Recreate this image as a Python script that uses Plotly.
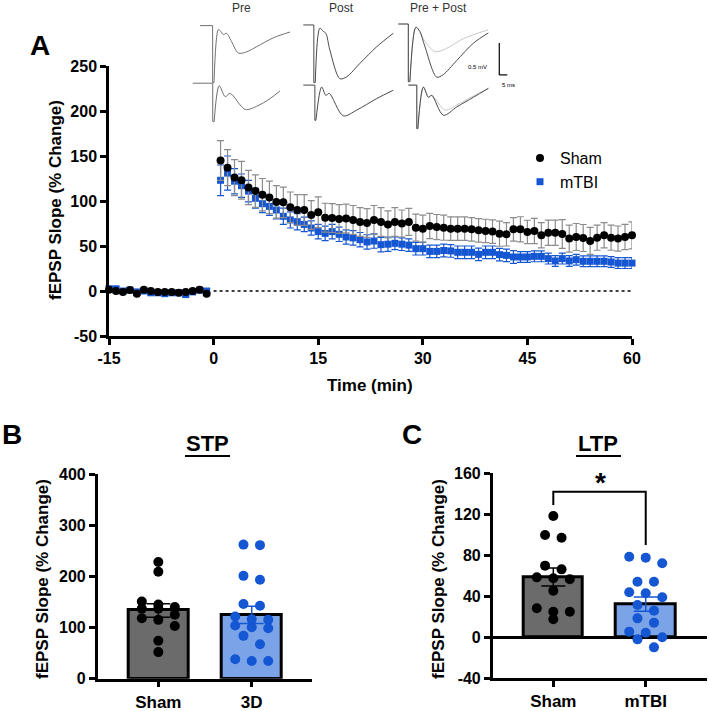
import plotly.graph_objects as go

# ---------------- DATA ----------------
# Panel A: time course (min) and fEPSP slope (% change)
time_pre = [-15, -14, -13, -12, -11, -10, -9, -8, -7, -6, -5, -4, -3, -2, -1]
time_post = list(range(1, 61))

sham_pre = [1.5, 0, -1, 1, -3, 1.5, 0, -1, -1, -1, -2, -1, 0, 1.5, -3]
mtbi_pre = [2.5, 2.5, 0, 1, -1, 0, -2, -2, -3, -2, -2, -4, -1, 1, 0]
sham_pre_sem = [2, 2, 2, 2, 2, 2, 2, 2, 2, 2, 2, 2, 2, 2, 2]
mtbi_pre_sem = [2, 2, 2, 2, 2, 2, 2, 2, 2, 2, 2, 2, 2, 2, 2]

sham_post = [145, 137, 126, 123, 115, 111, 107, 104, 99, 98.5,
             93, 90, 90, 84.5, 87.5, 81.5, 81, 80, 80.5, 79,
             76.7, 75.6, 79, 76.7, 74, 76.7, 75, 76.7, 70.4, 69.3,
             72.2, 71, 70.4, 69.3, 69.3, 69.3, 68.5, 67.4, 66.7, 66,
             63.7, 63, 68.5, 68.5, 65.6, 66.7, 61.9, 64.8, 64.8, 63.3,
             58.2, 60, 58.9, 55.6, 59.3, 61.9, 59.3, 58.2, 60, 61.9]
mtbi_post = [123, 131, 122, 117, 111, 103, 97, 94, 90, 83,
             79, 77, 74, 70, 66, 64, 66, 63, 60, 59,
             57, 54.5, 55.5, 51.5, 52, 53, 52, 51, 47, 47,
             44, 44, 45, 44.5, 43, 43, 43, 40.7, 43, 43,
             40.4, 39.6, 37.8, 37.8, 37.8, 38.5, 38.5, 36, 33.4, 36,
             33.4, 34.8, 33, 33, 33, 33, 32.2, 31, 31, 31]
sham_sem = [22, 20, 20, 21, 19, 18, 18, 18, 18, 17,
            17, 17, 17, 16, 17, 16, 16, 16, 16, 16,
            16, 16, 16, 16, 15, 16, 15, 15, 15, 15,
            14, 14, 14, 13, 13, 13, 13, 13, 13, 13,
            14, 13, 13, 14, 13, 14, 14, 14, 14, 16,
            15, 15, 15, 15, 14, 14, 14, 14, 14, 15]
mtbi_sem = [17, 19, 14, 13, 12, 11, 10, 10, 10, 9,
            9, 9, 8, 8, 8, 8, 8, 8, 8, 8,
            8, 8, 8, 8, 8, 7, 7, 7, 7, 7,
            7, 7, 7, 7, 7, 7, 7, 7, 7, 7,
            7, 7, 7, 6, 6, 6, 6, 6, 6, 6,
            6, 6, 6, 6, 6, 6, 6, 6, 6, 6]

a_xticks = [-15, 0, 15, 30, 45, 60]
a_xtick_labels = ["-15", "0", "15", "30", "45", "60"]
a_yticks = [-50, 0, 50, 100, 150, 200, 250]
a_ytick_labels = ["-50", "0", "50", "100", "150", "200", "250"]

# Panel B: STP
stp_groups = ["Sham", "3D"]
stp_sham = [228, 209, 151, 145, 140, 137, 137, 125, 118, 115, 103, 74, 52]
stp_3d = [262, 261, 201, 193.5, 146, 142.5, 121.6, 116, 115, 104, 100.6, 98.7,
          83.7, 67.4, 38, 34.7, 34.7]
b_yticks = [0, 100, 200, 300, 400]
b_ytick_labels = ["0", "100", "200", "300", "400"]

# Panel C: LTP
ltp_groups = ["Sham", "mTBI"]
ltp_sham = [118.3, 99.8, 97.2, 69.9, 66.3, 58.5, 57.6, 56.6, 45.5, 28.3, 25, 25, 17.6]
ltp_mtbi = [78.6, 77.7, 72.2, 54.2, 54.2, 43.9, 42.9, 39, 31.5, 26, 18.5, 14.3,
            5.5, 4.5, 0, -2, -9.8]
c_yticks = [-40, 0, 40, 80, 120, 160]
c_ytick_labels = ["-40", "0", "40", "80", "120", "160"]

# Inset example traces (time in ms from sweep start, voltage in mV re baseline)
pre_top_t = [0, 7.9, 7.9, 8.75, 11.5, 12.9, 14.6, 16.6, 19.75, 24, 29.1, 35.4, 45.9, 56.25]
pre_top_v = [0, 0, -0.89, -0.89, -0.06, -0.09, -0.14, -0.12, -0.25, -0.43, -0.41, -0.33, -0.19, -0.10]
pre_bot_t = [0, 12.5, 12.5, 13.4, 16.6, 20.3, 23.4, 32.8, 40, 48.4, 54.6]
pre_bot_v = [0, 0, -0.60, -0.60, -0.04, -0.21, -0.16, -0.41, -0.36, -0.24, -0.12]
post_top_t = [0, 6.6, 6.6, 7.5, 10.4, 12.5, 14.1, 16.6, 22.9, 27.1, 35.4, 45.9, 56.25]
post_top_v = [0, 0, -0.90, -0.90, -0.05, -0.10, -0.13, -0.39, -0.84, -0.81, -0.60, -0.34, -0.13]
post_bot_t = [0, 7.25, 7.25, 7.9, 11.5, 14.1, 16.25, 25, 33.4, 45.9, 56.25]
post_bot_v = [0, 0, -0.55, -0.55, -0.03, -0.16, -0.13, -0.48, -0.39, -0.21, -0.08]
pp_top_dark_t = [0, 6.25, 6.25, 7.25, 11, 13.5, 16.6, 24, 28.1, 36.5, 46.9, 56.25]
pp_top_dark_v = [0, 0, -0.90, -0.90, -0.05, -0.12, -0.35, -0.83, -0.79, -0.57, -0.30, -0.14]
pp_top_light_t = [0, 6.25, 6.25, 7.25, 11, 13.5, 15.6, 22.9, 30.25, 40.6, 56.25]
pp_top_light_v = [0, 0, -0.90, -0.90, -0.05, -0.12, -0.23, -0.43, -0.38, -0.23, -0.09]
pp_bot_dark_t = [0, 5.25, 5.25, 5.9, 9.4, 12.5, 14.6, 21.9, 30.25, 40.6, 50]
pp_bot_dark_v = [0, 0, -0.68, -0.68, -0.03, -0.19, -0.16, -0.47, -0.34, -0.19, -0.05]
pp_bot_light_t = [0, 5.25, 5.25, 5.9, 9.4, 12.5, 14.6, 22.9, 30.25, 40.6, 50]
pp_bot_light_v = [0, 0, -0.68, -0.68, -0.03, -0.19, -0.16, -0.39, -0.31, -0.17, -0.05]

# ---------------- STYLE / LAYOUT ----------------
W, H = 709, 711
FONT = "Arial, 'Liberation Sans', sans-serif"
BLUE = "#1556D2"
LIGHT_BLUE = "#7BA4E8"
GRAY_BAR = "#6B6B6B"
GRAY_ERR = "#8C8C8C"


def px(x):
    return x / W


def py(y):
    return 1 - y / H


def mean(v):
    return sum(v) / len(v)


def sem(v):
    m = mean(v)
    var = sum((a - m) ** 2 for a in v) / (len(v) - 1)
    return (var ** 0.5) / (len(v) ** 0.5)


def swarm(values, px_per_val, px_per_cat, thresh=9.5, step=16.5, maxrow=3):
    order = sorted(range(len(values)), key=lambda i: -values[i])
    rows = []
    for i in order:
        if rows and len(rows[-1]) < maxrow and (values[rows[-1][0]] - values[i]) * px_per_val < thresh:
            rows[-1].append(i)
        else:
            rows.append([i])
    offs = [0.0] * len(values)
    for r in rows:
        n = len(r)
        for k, i in enumerate(r):
            offs[i] = (k - (n - 1) / 2) * step / px_per_cat
    return offs


fig = go.Figure()

# ---- Panel A ----
fig.add_trace(go.Scatter(
    x=time_pre + time_post, y=mtbi_pre + mtbi_post, mode="markers", name="mTBI",
    marker=dict(symbol="square", size=7, color=BLUE),
    error_y=dict(type="data", array=mtbi_pre_sem + mtbi_sem, color=BLUE, thickness=1.2, width=3.5),
    xaxis="x", yaxis="y", cliponaxis=False, legendrank=2))
fig.add_trace(go.Scatter(
    x=time_pre + time_post, y=sham_pre + sham_post, mode="markers", name="Sham",
    marker=dict(symbol="circle", size=8, color="black"),
    error_y=dict(type="data", array=sham_pre_sem + sham_sem, color=GRAY_ERR, thickness=1.2, width=3.5),
    xaxis="x", yaxis="y", cliponaxis=False, legendrank=1))

# ---- Panel B ----
b_px_val = 204.7 / 400
b_px_cat = 93.4
for gi, (vals, fill, ecol, pcol) in enumerate([(stp_sham, GRAY_BAR, "black", "black"),
                                                 (stp_3d, LIGHT_BLUE, BLUE, BLUE)]):
    fig.add_trace(go.Bar(x=[gi], y=[mean(vals)], width=0.64, xaxis="x2", yaxis="y2",
                         marker=dict(color=fill, line=dict(color="black", width=3)),
                         error_y=dict(type="data", array=[sem(vals)], color=ecol, thickness=1.5, width=12),
                         showlegend=False))
    offs = swarm(vals, b_px_val, b_px_cat)
    fig.add_trace(go.Scatter(x=[gi + o for o in offs], y=vals, mode="markers", xaxis="x2", yaxis="y2",
                             marker=dict(size=10, color=pcol), showlegend=False, cliponaxis=False))

# ---- Panel C ----
c_px_val = 205.0 / 200
c_px_cat = 92.4
for gi, (vals, fill, ecol, pcol) in enumerate([(ltp_sham, GRAY_BAR, "black", "black"),
                                                 (ltp_mtbi, LIGHT_BLUE, BLUE, BLUE)]):
    fig.add_trace(go.Bar(x=[gi], y=[mean(vals)], width=0.64, xaxis="x3", yaxis="y3",
                         marker=dict(color=fill, line=dict(color="black", width=3)),
                         error_y=dict(type="data", array=[sem(vals)], color=ecol, thickness=1.5, width=12),
                         showlegend=False))
    offs = swarm(vals, c_px_val, c_px_cat)
    fig.add_trace(go.Scatter(x=[gi + o for o in offs], y=vals, mode="markers", xaxis="x3", yaxis="y3",
                             marker=dict(size=10, color=pcol), showlegend=False, cliponaxis=False))

# ---- Inset example traces ----
wave_pos = {
    "pre_top": (6.25, 0.10), "pre_bot": (1.7, -0.80),
    "post_top": (70.8, 0.11), "post_bot": (70.8, -0.83),
    "pp_top": (130.2, 0.125), "pp_bot": (136.5, -0.83),
}
waves = [
    ("pre_top", pre_top_t, pre_top_v, "#707070"),
    ("pre_bot", pre_bot_t, pre_bot_v, "#707070"),
    ("post_top", post_top_t, post_top_v, "#4a4a4a"),
    ("post_bot", post_bot_t, post_bot_v, "#4a4a4a"),
    ("pp_top", pp_top_light_t, pp_top_light_v, "#c8c8c8"),
    ("pp_top", pp_top_dark_t, pp_top_dark_v, "#4a4a4a"),
    ("pp_bot", pp_bot_light_t, pp_bot_light_v, "#c8c8c8"),
    ("pp_bot", pp_bot_dark_t, pp_bot_dark_v, "#4a4a4a"),
]
for key, t, v, col in waves:
    t0, v0 = wave_pos[key]
    xs = [t0 + a for a in t]
    ys = [v0 + b for b in v]
    # baseline + stimulus artifact (straight), then evoked response (smooth)
    fig.add_trace(go.Scatter(x=xs[:4], y=ys[:4], mode="lines",
                             line=dict(color=col, width=1), xaxis="x4", yaxis="y4",
                             showlegend=False, hoverinfo="skip"))
    fig.add_trace(go.Scatter(x=xs[3:], y=ys[3:], mode="lines",
                             line=dict(color=col, width=1, shape="spline", smoothing=0.9),
                             xaxis="x4", yaxis="y4", showlegend=False, hoverinfo="skip"))

tickfont = dict(family=FONT, size=16, color="black", weight="bold")
ax = dict(showline=True, linewidth=2.5, linecolor="black", ticks="outside", ticklen=6,
          tickwidth=2.5, tickcolor="black", showgrid=False, zeroline=False, tickfont=tickfont,
          automargin=False, tickmode="array")

layout = dict(
    width=W, height=H, margin=dict(l=0, r=0, t=0, b=0, pad=0, autoexpand=False),
    plot_bgcolor="white", paper_bgcolor="white",
    font=dict(family=FONT, color="black"),
    xaxis=dict(ax, domain=[px(109), px(632)], range=[-15, 60], tickvals=a_xticks,
               ticktext=a_xtick_labels, anchor="y"),
    yaxis=dict(ax, domain=[py(336), py(66)], range=[-50, 250], tickvals=a_yticks,
               ticktext=a_ytick_labels, anchor="x"),
    xaxis2=dict(ax, domain=[px(97.7), px(311.7)], range=[-0.649, 1.642], tickvals=[0, 1],
                ticktext=stp_groups, anchor="y2", tickfont=dict(tickfont, size=17)),
    yaxis2=dict(ax, domain=[py(678.7), py(474)], range=[0, 400], tickvals=b_yticks,
                ticktext=b_ytick_labels, anchor="x2"),
    xaxis3=dict(ax, domain=[px(492.7), px(706.7)], range=[-0.656, 1.66], tickvals=[0, 1],
                ticktext=ltp_groups, anchor="y3", tickfont=dict(tickfont, size=17)),
    yaxis3=dict(ax, domain=[py(678.3), py(473.3)], range=[-40, 160], tickvals=c_yticks,
                ticktext=c_ytick_labels, anchor="x3",
                zeroline=True, zerolinecolor="black", zerolinewidth=2.5),
    xaxis4=dict(domain=[px(190), px(530)], range=[0, 340 / 1.6], visible=False, anchor="y4",
                automargin=False),
    yaxis4=dict(domain=[py(135), 1], range=[0.5 - 135 / 64, 0.5], visible=False, anchor="x4",
                automargin=False),
    legend=dict(x=px(520), y=py(141), xanchor="left", yanchor="top",
                font=dict(family=FONT, size=16, color="black"), bgcolor="rgba(0,0,0,0)"),
    bargap=0,
    showlegend=True,
)
fig.update_layout(**layout)

# Shapes
shapes = [
    dict(type="line", xref="x", yref="y", x0=0, x1=60, y0=0, y1=0,
         line=dict(color="black", width=1.5, dash="dot"), layer="below"),
    dict(type="path", xref="x3", yref="y3", path="M 0,129 L 0,142 L 1,142 L 1,90",
         line=dict(color="black", width=2)),
    dict(type="line", xref="paper", yref="paper", x0=px(185), x1=px(230), y0=py(456), y1=py(456),
         line=dict(color="black", width=2)),
    dict(type="line", xref="paper", yref="paper", x0=px(576), x1=px(621), y0=py(456), y1=py(456),
         line=dict(color="black", width=2)),
    dict(type="line", xref="x4", yref="y4", x0=193.3, x1=193.3, y0=-0.17, y1=-0.67,
         line=dict(color="black", width=1.2)),
    dict(type="line", xref="x4", yref="y4", x0=193.3, x1=198.3, y0=-0.67, y1=-0.67,
         line=dict(color="black", width=1.2)),
]
fig.update_layout(shapes=shapes)


def ann(text, x, y, size, bold=True, angle=0, color="black"):
    return dict(text=text, x=px(x), y=py(y), xref="paper", yref="paper", showarrow=False,
                xanchor="center", yanchor="middle", textangle=angle,
                font=dict(family=FONT, size=size, color=color, weight="bold" if bold else "normal"))


annotations = [
    ann("A", 40, 45, 28),
    ann("B", 12, 434, 28),
    ann("C", 412, 434, 28),
    ann("fEPSP Slope (% Change)", 55, 200, 17, angle=-90),
    ann("Time (min)", 370, 385, 17),
    ann("STP", 207, 443, 22),
    ann("LTP", 598, 443, 22),
    ann("fEPSP Slope (% Change)", 42, 579, 17, angle=-90),
    ann("fEPSP Slope (% Change)", 438, 579, 17, angle=-90),
    ann("*", 600, 482, 28),
    ann("Pre", 241, 8, 12, bold=False, color="#333333"),
    ann("Post", 341, 8, 12, bold=False, color="#333333"),
    ann("Pre + Post", 438, 8, 12, bold=False, color="#333333"),
    ann("0.5 mV", 478, 67, 6, bold=False),
    ann("5 ms", 508, 85, 6, bold=False),
]
fig.update_layout(annotations=annotations)

fig.write_html("out.html")
